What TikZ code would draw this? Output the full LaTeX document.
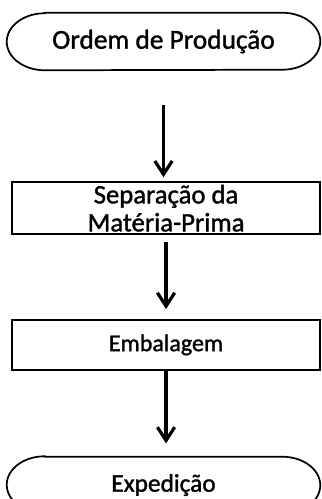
\documentclass[tikz,border=0pt]{standalone}
\usepackage{fontspec}
\setmainfont{Carlito}
\newfontfamily\scanfont{Carlito}[FakeBold=1.3]
\usetikzlibrary{arrows.meta, positioning}

% contorno do terminal (pontas elipticas)
\newcommand{\terminalborder}[1]{%
    \draw[border] ([xshift=28.5pt]#1.north west) -- ([xshift=-28.5pt]#1.north east)
        arc[start angle=90, end angle=-90, x radius=28.5pt, y radius=21.375pt]
        -- ([xshift=28.5pt]#1.south west)
        arc[start angle=270, end angle=90, x radius=28.5pt, y radius=21.375pt]
        -- cycle;%
}

\begin{document}
\begin{tikzpicture}[
    x=0.75pt, y=-0.75pt,
    >={Straight Barb[length=10pt, width=13pt]},
    terminal/.style={
        rectangle,
        minimum width=234.75pt,
        minimum height=42.75pt,
        inner sep=0pt,
        align=center
    },
    process/.style={
        rectangle,
        draw=black,
        line width=1.3pt,
        minimum width=231pt,
        inner sep=0pt,
        align=center
    },
    arrow/.style={
        ->,
        line width=2.4pt
    },
    border/.style={
        draw=black,
        line width=1.3pt
    }
]
\useasboundingbox (0,0) rectangle (321,499);

% Inicio
\node[terminal, font=\scanfont\fontsize{20.5}{24}\selectfont] (ordem) at (163.5,41.5) {Ordem de Produção};
\terminalborder{ordem}

% Etapa 1
\node[process, minimum height=39pt, text depth=0pt, font=\scanfont\fontsize{20}{21}\selectfont,
      below=83.25pt of ordem, xshift=1.9pt] (separacao) {Separação da\\Matéria-Prima};

% Etapa 2
\node[process, minimum height=37.5pt, font=\scanfont\fontsize{18}{22}\selectfont,
      below=63pt of separacao] (embalagem) {Embalagem};

% Fim
\node[terminal, minimum height=42pt, font=\scanfont\fontsize{19}{23}\selectfont,
      below=64.5pt of embalagem, xshift=-1.9pt] (expedicao) {Expedição};
\terminalborder{expedicao}

% Setas de fluxo
\draw[arrow, shorten <=26pt, shorten >=3pt] (ordem.south) -- (ordem.south |- separacao.north);
\draw[arrow, shorten <=5pt, shorten >=7.5pt] (separacao.south) -- (embalagem.north);
\draw[arrow, shorten >=10pt] (embalagem.south) -- (embalagem.south |- expedicao.north);

\end{tikzpicture}
\end{document}
